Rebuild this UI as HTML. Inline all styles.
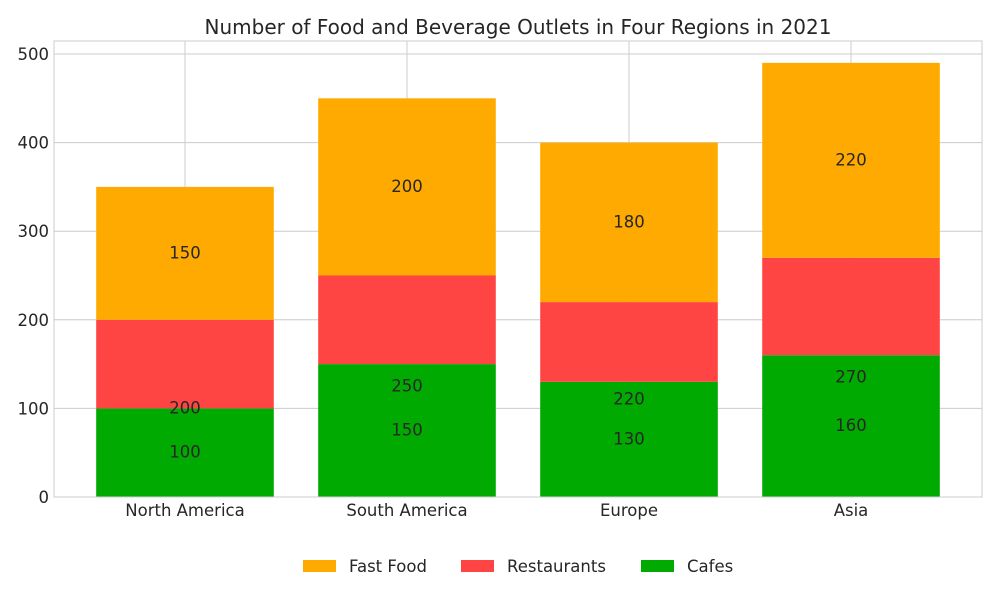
<!DOCTYPE html>
<html><head><meta charset="utf-8"><style>
body{margin:0;background:#fff;font-family:"Liberation Sans",sans-serif;}
text{font-family:"DejaVu Sans","Liberation Sans",sans-serif;}
</style></head><body>
<svg id="chart" width="1000" height="600" xmlns="http://www.w3.org/2000/svg">
<rect width="1000" height="600" fill="#fff"/>
<g id="grid"></g><g id="bars"></g><g id="labels"></g><g id="axes"></g>
<text x="518" y="34" text-anchor="middle" font-size="20" fill="#262626">Number of Food and Beverage Outlets in Four Regions in 2021</text>
<g id="legend"></g>
</svg>
<script>
const categories=["North America","South America","Europe","Asia"];
const cafes=[100,150,130,160];
const restaurants=[100,100,90,110];
const fastFood=[150,200,180,220];
const yTicks=[0,100,200,300,400,500];
const L=54,R=982,T=41,B=497;
const NS="http://www.w3.org/2000/svg";
function y(v){return B-v*(443/500);}
function x(i){return L+(i+0.59)*(R-L)/4.18;}
const bw=0.8*(R-L)/4.18;
function mk(tag,attrs,parent,txt){const e=document.createElementNS(NS,tag);for(const k in attrs)e.setAttribute(k,attrs[k]);if(txt!==undefined)e.textContent=txt;document.getElementById(parent).appendChild(e);return e;}
yTicks.forEach(t=>{
 const g=mk('line',{x1:L,x2:R,y1:y(t),y2:y(t),stroke:'#cccccc','stroke-width':1},'grid');
 
 
 const tl=mk('text',{x:L-5,y:y(t)+6,'text-anchor':'end','font-size':16.5,fill:'#262626'},'axes',t);
 
 
});
categories.forEach((c,i)=>{
 const g=mk('line',{x1:x(i),x2:x(i),y1:T,y2:B,stroke:'#cccccc','stroke-width':1},'grid');
 
 
 const tl=mk('text',{x:x(i),y:B+19,'text-anchor':'middle','font-size':16.5,fill:'#262626'},'axes',c);
 
 
 const segs=[[0,cafes[i],'#00aa00','cafes'],[cafes[i],restaurants[i],'#ff4444','restaurants'],[cafes[i]+restaurants[i],fastFood[i],'#ffaa00','fast-food']];
 segs.forEach(s=>{
  const r=mk('rect',{x:x(i)-bw/2,y:y(s[0]+s[1]),width:bw,height:y(s[0])-y(s[0]+s[1]),fill:s[2]},'bars');
  
  
 });
 const cum=cafes[i]+restaurants[i];
 const lbls=[[cafes[i],cafes[i]/2],[cum,cum/2],[fastFood[i],cum+fastFood[i]/2]];
 lbls.forEach(l=>{
  const t=mk('text',{x:x(i),y:y(l[1])+5,'text-anchor':'middle','font-size':16.5,fill:'#262626'},'labels',l[0]);
  
  
 });
});
const f=mk('rect',{x:L,y:T,width:R-L,height:B-T,fill:'none',stroke:'#cccccc','stroke-width':1},'axes');


[['Fast Food','#ffaa00',303],['Restaurants','#ff4444',461],['Cafes','#00aa00',641]].forEach(e=>{
 const r=mk('rect',{x:e[2],y:560,width:33,height:12,fill:e[1]},'legend');
 
 
 const t=mk('text',{x:e[2]+46,y:572,'font-size':16.5,fill:'#262626'},'legend',e[0]);
 
 
});
</script>
</body></html>
